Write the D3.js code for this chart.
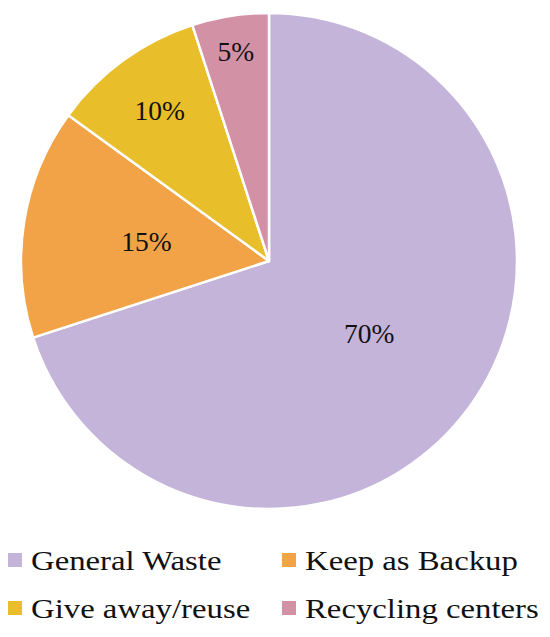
<!DOCTYPE html>
<html lang="en">
<head>
<meta charset="utf-8">
<title>Disposal pie</title>
<script src="https://cdn.jsdelivr.net/npm/d3@7/dist/d3.min.js"></script>
<style>
  body { margin: 0; background: white; }
</style>
</head>
<body>
<div id="chart"></div>
<script>
// data
var categories = ["General Waste", "Keep as Backup", "Give away/reuse", "Recycling centers"];
var shares = [70, 15, 10, 5];
var colors = ["#c4b4d9", "#f2a347", "#e8be2a", "#d391a6"];

// layout
var width = 550, height = 637;
var cx = 269, cy = 261, radius = 248;
var labelPos = [0.5, 0.5, 0.75, 0.855]; // fraction of radius for each label
var serif = "'Liberation Serif', 'Times New Roman', serif";

var svg = d3.select("#chart").append("svg")
    .attr("width", width)
    .attr("height", height);

var pie = d3.pie().sort(null).value(function(d) { return d; });
var arcs = pie(shares);
var arc = d3.arc().innerRadius(0).outerRadius(radius);

var g = svg.append("g").attr("transform", "translate(" + cx + "," + cy + ")");

g.selectAll("path.slice").data(arcs)
  .enter().append("path")
  .attr("class", "slice")
  .attr("d", arc)
  .attr("fill", function(d, i) { return colors[i]; })
  .attr("stroke", "white")
  .attr("stroke-width", 2.5)
  .attr("stroke-linejoin", "round");

g.selectAll("text.lbl").data(arcs)
  .enter().append("text")
  .attr("class", "lbl")
  .attr("transform", function(d, i) {
    var r = radius * labelPos[i];
    var a = (d.startAngle + d.endAngle) / 2;
    return "translate(" + (r * Math.sin(a)) + "," + (-r * Math.cos(a)) + ")";
  })
  .attr("text-anchor", "middle")
  .attr("dy", "0.34em")
  .style("font-family", serif)
  .style("font-size", "27.5px")
  .style("fill", "#111")
  .text(function(d) { return d.data + "%"; });

// legend, 2 columns
var colX = [8, 282], rowY = [560, 608];
var leg = svg.selectAll("g.leg").data(categories)
  .enter().append("g")
  .attr("class", "leg")
  .attr("transform", function(d, i) { return "translate(" + colX[i % 2] + "," + rowY[Math.floor(i / 2)] + ")"; });

leg.append("rect")
  .attr("x", 0).attr("y", -7)
  .attr("width", 14).attr("height", 14)
  .attr("fill", function(d, i) { return colors[i]; });

// the legend type is set a little wide in the original
leg.append("text")
  .attr("transform", "translate(23,10) scale(1.17,1)")
  .style("font-family", serif)
  .style("font-size", "28px")
  .style("fill", "#111")
  .text(function(d) { return d; });
</script>
</body>
</html>
